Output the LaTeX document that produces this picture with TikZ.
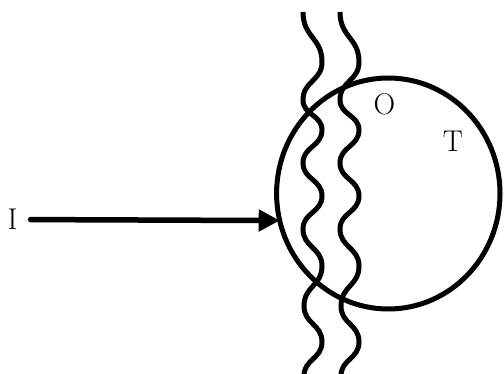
\documentclass[tikz,border=0pt]{standalone}
\usetikzlibrary{arrows.meta,shapes.geometric}
\begin{document}
\begin{tikzpicture}[x=1pt,y=-1pt,
  lbl/.style={font=\fontsize{30}{36}\selectfont, inner sep=2pt},
  ring/.style={draw, line width=5pt, ellipse, inner sep=0pt, outer sep=0pt,
    minimum width=223.4pt, minimum height=231pt},
  wave/.style={line width=5pt},
  arr/.style={line width=5.5pt, line cap=round,
    -{Triangle[length=21pt,width=21pt]}}]
\useasboundingbox (0,0) rectangle (504,374);
\node[ring] (circ) at (388.3,193.5) {};
\node[lbl] (I) at (12.5,219.5) {I};
\node[lbl] (O) at (384.5,104) {O};
\node[lbl] (T) at (453,141) {T};
\foreach \dx/\nm in {0/w1,37/w2}{
  \coordinate (\nm s) at (303+\dx,12);
  \coordinate (\nm e) at (304+\dx,376);
  \draw[wave, xshift=\dx pt] (\nm s)
    .. controls (303,37.5) and (322,37.5) .. (322,62)
    .. controls (322,81) and (303,81) .. (303,100)
    .. controls (303,115) and (322,115) .. (322,130)
    .. controls (322,146.5) and (303,146.5) .. (303,163)
    .. controls (303,179.5) and (322,179.5) .. (322,196)
    .. controls (322,212.5) and (303,212.5) .. (303,229)
    .. controls (303,247.5) and (322,247.5) .. (322,266)
    .. controls (322,286) and (304,286) .. (304,306)
    .. controls (304,324) and (322,324) .. (322,342)
    .. controls (322,359) and (304,359) .. (304,376);
}
\draw[arr, shorten <=11pt] (I) -- (circ.194);
\end{tikzpicture}
\end{document}
